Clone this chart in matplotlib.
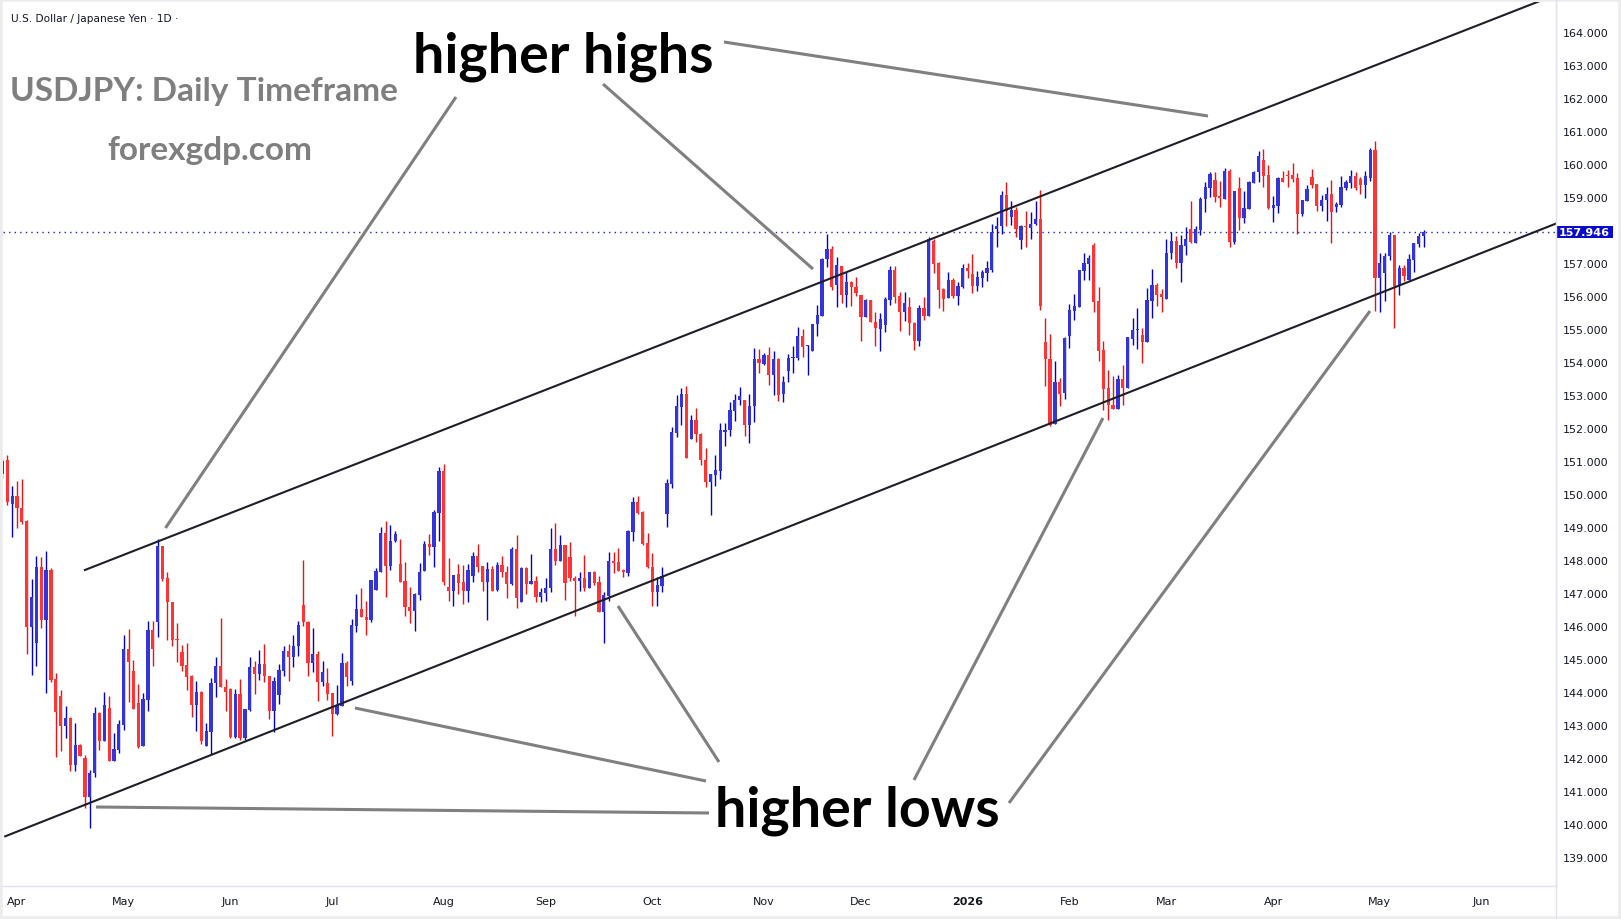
import numpy as np
import pandas as pd
import matplotlib
matplotlib.use("Agg")
import matplotlib.pyplot as plt
import matplotlib.transforms as mtransforms
from matplotlib.lines import Line2D
from matplotlib.patches import Rectangle

# USDJPY daily candles (index 0 = 2025-03-27)
opens = [150.60, 151.03, 149.70, 149.95, 149.58, 149.19, 145.98, 145.50, 147.80, 146.18,
         147.71, 144.39, 143.89, 142.98, 143.21, 141.80, 142.40, 142.00, 140.83, 141.54,
         143.36, 142.53, 143.52, 141.92, 142.25, 143.01, 145.30, 144.63, 143.67, 142.37,
         143.77, 145.88, 146.13, 148.43, 147.45, 146.74, 145.61, 145.22, 144.82, 144.50,
         143.62, 144.00, 142.37, 142.80, 144.29, 144.78, 144.14, 144.09, 142.63, 143.94,
         142.60, 143.47, 144.77, 144.55, 144.84, 144.50, 143.44, 143.92, 144.65, 145.24,
         145.07, 145.41, 146.64, 146.13, 144.87, 145.15, 144.32, 144.27, 143.97, 143.34,
         143.59, 144.87, 144.35, 146.01, 146.52, 146.27, 146.17, 147.10, 147.65, 148.81,
         147.83, 148.57, 147.88, 147.38, 146.59, 146.47, 146.95, 147.66, 148.49, 148.41,
         149.43, 150.71, 147.18, 147.05, 147.58, 147.33, 147.07, 147.51, 148.11, 147.81,
         147.35, 147.73, 147.09, 147.85, 147.63, 147.28, 148.34, 146.74, 147.76, 147.28,
         147.36, 146.89, 147.00, 147.14, 148.34, 147.98, 148.46, 148.08, 147.46, 147.38,
         147.45, 147.16, 147.63, 147.33, 146.44, 146.92, 147.97, 147.93, 147.70, 147.61,
         148.86, 149.77, 149.47, 148.52, 147.78, 147.02, 147.23, 149.40, 150.31, 151.86,
         152.65, 153.04, 151.67, 152.25, 151.83, 151.04, 150.38, 150.58, 150.71, 151.89,
         151.93, 152.53, 152.85, 152.85, 152.08, 152.68, 154.10, 153.93, 154.22, 153.62,
         154.10, 153.02, 153.74, 154.12, 154.12, 154.78, 154.48, 154.35, 155.14, 155.41,
         157.11, 157.43, 156.34, 156.91, 156.02, 156.44, 156.27, 156.04, 155.38, 155.87,
         155.21, 155.00, 155.13, 155.89, 156.79, 156.01, 155.53, 155.68, 155.18, 154.65,
         155.63, 155.41, 157.68, 157.00, 156.21, 155.93, 156.49, 156.01, 156.29, 156.85,
         156.67, 156.31, 156.55, 156.70, 156.80, 158.03, 158.11, 159.06, 158.41, 158.61,
         157.71, 158.13, 158.06, 158.18, 158.33, 154.62, 154.09, 152.12, 153.41, 153.05,
         154.80, 155.56, 155.68, 156.77, 156.97, 157.54, 155.84, 154.36, 153.21, 152.70,
         152.59, 153.48, 153.21, 154.71, 154.97, 154.82, 154.60, 155.84, 156.34, 156.06,
         155.91, 157.30, 157.66, 157.00, 157.52, 158.03, 157.61, 158.01, 158.94, 159.29,
         159.51, 159.04, 158.94, 159.78, 157.63, 159.29, 158.36, 158.64, 159.44, 159.75,
         160.13, 159.67, 158.66, 158.74, 159.57, 159.67, 159.68, 159.57, 158.49, 158.89,
         159.60, 159.40, 158.74, 158.90, 159.10, 158.69, 158.76, 159.28, 159.42, 159.65,
         159.55, 159.38, 159.58, 160.43, 156.55, 156.70, 157.21, 157.86, 156.30, 156.85,
         156.50, 157.10, 157.58, 157.81]
highs = [151.10, 151.18, 150.25, 150.40, 150.45, 149.22, 147.42, 148.13, 148.10, 148.28,
         147.75, 144.58, 144.06, 143.59, 143.26, 143.05, 142.44, 142.09, 141.65, 143.56,
         143.41, 143.99, 143.89, 142.75, 143.15, 145.73, 145.91, 144.97, 144.24, 143.96,
         146.14, 146.14, 148.64, 148.43, 147.63, 146.74, 146.09, 145.42, 145.49, 144.52,
         144.34, 144.04, 143.05, 144.44, 145.05, 146.26, 144.41, 144.12, 144.09, 144.40,
         143.50, 145.05, 144.95, 145.28, 145.46, 144.50, 144.47, 144.85, 145.39, 145.46,
         145.74, 146.16, 148.00, 146.16, 145.94, 145.26, 144.95, 144.72, 143.97, 144.22,
         145.20, 144.95, 146.22, 146.97, 147.15, 146.75, 147.40, 147.75, 148.99, 149.20,
         149.06, 148.89, 148.64, 147.95, 147.20, 147.00, 147.91, 148.59, 148.79, 149.53,
         150.81, 150.91, 148.06, 147.56, 147.88, 147.85, 147.88, 148.24, 148.49, 147.83,
         147.93, 147.81, 147.93, 148.11, 147.81, 148.41, 148.76, 147.80, 147.78, 148.18,
         147.51, 147.15, 147.45, 148.96, 149.12, 148.76, 148.46, 148.54, 147.53, 147.63,
         148.15, 147.65, 147.68, 147.53, 147.02, 148.24, 148.26, 148.37, 147.73, 148.92,
         149.90, 149.93, 149.50, 148.82, 148.22, 147.48, 147.78, 150.46, 152.03, 152.99,
         153.21, 153.29, 152.41, 152.61, 151.86, 151.39, 150.61, 151.19, 152.16, 152.16,
         152.80, 153.02, 153.24, 152.85, 153.04, 154.42, 154.40, 154.27, 154.45, 154.33,
         154.12, 153.57, 154.25, 154.50, 155.06, 155.00, 154.52, 155.16, 155.73, 157.15,
         157.89, 157.53, 157.20, 156.91, 156.74, 156.47, 156.59, 156.04, 155.90, 155.87,
         155.51, 155.48, 155.98, 156.92, 156.90, 156.13, 156.11, 155.98, 155.22, 155.73,
         155.96, 157.78, 157.73, 157.02, 156.26, 156.72, 156.54, 156.42, 156.97, 156.99,
         157.27, 156.77, 156.79, 157.07, 158.18, 158.41, 159.19, 159.47, 158.88, 158.69,
         158.15, 158.59, 158.54, 158.87, 159.22, 155.33, 154.85, 154.02, 153.51, 154.75,
         155.76, 156.06, 156.80, 157.32, 157.24, 157.62, 156.28, 154.65, 153.77, 153.59,
         153.61, 153.91, 154.77, 155.33, 155.64, 155.03, 156.26, 156.82, 156.41, 156.21,
         157.73, 157.93, 157.81, 157.85, 158.10, 158.89, 158.13, 158.99, 159.46, 159.75,
         159.75, 159.49, 159.88, 159.85, 159.19, 159.62, 159.17, 159.49, 159.80, 160.40,
         160.46, 159.98, 159.02, 159.60, 159.78, 159.82, 160.04, 159.73, 158.92, 159.37,
         159.85, 159.40, 159.05, 159.30, 159.52, 158.84, 159.63, 159.53, 159.82, 159.75,
         159.60, 159.78, 160.48, 160.71, 157.31, 157.31, 157.94, 157.86, 156.95, 156.95,
         157.28, 157.61, 157.90, 157.99]
lows = [150.50, 149.67, 148.69, 148.97, 149.09, 145.15, 144.52, 144.80, 145.94, 143.98,
        144.30, 142.04, 142.22, 142.60, 141.62, 141.60, 142.07, 140.48, 139.89, 141.43,
        142.25, 142.52, 141.92, 141.90, 142.15, 142.85, 143.69, 143.50, 142.32, 142.37,
        143.43, 144.78, 145.66, 147.37, 145.59, 145.40, 144.92, 144.65, 144.07, 143.25,
        142.81, 142.42, 142.37, 142.12, 143.84, 144.14, 143.43, 142.60, 142.60, 142.55,
        142.55, 143.44, 143.94, 144.38, 144.32, 143.17, 142.78, 143.64, 144.50, 144.33,
        144.75, 145.10, 146.01, 144.50, 144.60, 143.74, 144.17, 143.77, 142.68, 143.30,
        143.59, 144.17, 144.22, 145.83, 146.27, 145.74, 146.13, 147.09, 147.63, 146.89,
        147.71, 148.54, 147.35, 146.30, 146.09, 145.86, 146.80, 147.66, 148.15, 147.80,
        148.59, 147.26, 146.77, 146.62, 146.97, 146.67, 146.72, 147.35, 147.65, 147.07,
        146.20, 147.07, 147.07, 147.48, 146.85, 147.26, 146.55, 146.74, 146.97, 147.27,
        146.72, 146.72, 146.77, 147.04, 147.85, 147.96, 146.80, 147.38, 146.30, 147.07,
        147.05, 147.15, 147.26, 146.42, 145.48, 146.77, 147.61, 147.66, 147.48, 147.51,
        148.59, 149.40, 148.47, 147.76, 146.60, 146.60, 147.04, 149.00, 150.18, 151.72,
        152.10, 151.10, 151.67, 151.59, 150.89, 150.21, 149.38, 150.26, 150.46, 151.47,
        151.77, 152.23, 152.70, 151.75, 151.54, 152.18, 153.66, 153.90, 153.32, 152.99,
        152.83, 152.80, 153.41, 153.66, 154.05, 154.15, 153.62, 154.35, 154.80, 155.39,
        156.88, 156.20, 155.66, 155.79, 155.66, 155.69, 155.99, 154.65, 155.36, 155.21,
        154.50, 154.35, 154.90, 155.73, 155.78, 154.95, 155.25, 154.83, 154.37, 154.50,
        155.28, 155.41, 156.70, 155.64, 155.56, 155.93, 155.93, 155.73, 156.26, 156.54,
        156.09, 156.16, 156.28, 156.47, 156.74, 157.50, 157.88, 158.11, 158.15, 157.80,
        157.43, 157.48, 157.73, 158.15, 155.59, 153.28, 152.05, 152.12, 152.68, 152.88,
        154.43, 155.28, 155.68, 156.49, 156.49, 155.53, 154.04, 152.55, 152.25, 152.57,
        152.59, 152.70, 153.21, 154.52, 154.41, 153.97, 154.60, 155.35, 155.71, 155.52,
        155.91, 157.12, 156.85, 156.43, 157.24, 157.61, 157.60, 157.86, 158.56, 158.99,
        158.86, 158.71, 158.94, 157.50, 157.58, 158.01, 158.23, 158.64, 159.44, 159.45,
        159.30, 158.64, 158.26, 158.52, 159.45, 159.32, 159.45, 157.88, 158.44, 158.88,
        159.28, 158.59, 158.59, 158.27, 157.60, 158.54, 158.69, 159.23, 159.27, 159.23,
        159.10, 158.97, 159.50, 155.54, 155.51, 155.86, 157.08, 155.03, 156.02, 156.45,
        156.50, 156.72, 157.50, 157.50]
closes = [151.00, 149.77, 149.95, 149.57, 149.14, 145.98, 146.89, 147.80, 146.18, 147.71,
          144.37, 143.40, 142.98, 143.22, 141.80, 142.40, 142.07, 140.83, 141.55, 143.36,
          142.53, 143.62, 141.92, 142.27, 143.03, 145.30, 144.90, 143.50, 142.35, 143.79,
          145.88, 145.30, 148.43, 147.42, 146.72, 145.59, 145.58, 144.80, 144.47, 143.62,
          144.00, 142.53, 142.81, 144.29, 144.78, 144.14, 144.01, 142.63, 143.94, 142.60,
          143.48, 144.77, 144.55, 144.85, 144.50, 143.44, 144.33, 144.67, 145.24, 145.07,
          145.41, 146.03, 146.11, 144.87, 145.15, 144.32, 144.60, 143.94, 143.34, 143.61,
          144.87, 144.47, 146.03, 146.52, 146.27, 146.19, 147.40, 147.66, 148.82, 147.83,
          148.59, 148.79, 147.35, 146.57, 146.45, 146.97, 147.65, 148.49, 148.41, 149.45,
          150.71, 147.33, 147.05, 147.56, 147.31, 147.07, 147.70, 148.11, 147.80, 147.35,
          147.73, 147.07, 147.85, 147.63, 147.28, 148.34, 146.85, 147.76, 147.28, 147.36,
          146.89, 147.02, 147.15, 148.34, 147.98, 148.46, 147.31, 147.45, 147.38, 147.45,
          147.16, 147.63, 147.31, 146.44, 146.95, 147.97, 147.92, 147.68, 147.63, 148.87,
          149.77, 149.43, 148.49, 147.78, 147.02, 147.25, 147.53, 150.34, 151.87, 152.68,
          153.04, 151.10, 152.26, 151.83, 151.02, 150.38, 150.61, 150.74, 151.93, 151.95,
          152.55, 152.85, 152.97, 152.08, 152.68, 154.10, 153.98, 154.22, 153.62, 154.10,
          152.99, 153.39, 154.12, 154.14, 154.78, 154.47, 154.52, 155.16, 155.43, 157.13,
          157.43, 156.27, 156.93, 156.02, 156.44, 156.27, 156.10, 155.38, 155.87, 155.21,
          155.03, 155.32, 155.91, 156.79, 155.98, 155.53, 155.78, 155.17, 154.65, 155.63,
          155.41, 157.73, 156.97, 156.19, 155.91, 156.49, 156.01, 156.31, 156.85, 156.77,
          156.31, 156.59, 156.72, 156.84, 157.93, 158.13, 159.06, 158.57, 158.61, 158.03,
          158.11, 158.10, 158.20, 158.33, 155.71, 154.09, 152.09, 153.41, 153.03, 154.72,
          155.58, 155.71, 156.80, 156.99, 157.14, 155.83, 154.34, 153.18, 152.70, 152.59,
          153.48, 153.21, 154.75, 154.97, 155.00, 154.60, 155.88, 156.34, 156.03, 155.98,
          157.32, 157.66, 157.00, 157.55, 157.73, 157.63, 158.03, 158.94, 159.31, 159.70,
          158.99, 158.96, 159.78, 157.63, 159.19, 158.36, 158.66, 159.46, 159.75, 160.26,
          159.65, 158.66, 158.76, 159.57, 159.47, 159.63, 159.55, 158.49, 158.92, 159.25,
          159.38, 158.74, 158.92, 159.10, 158.56, 158.79, 159.30, 159.45, 159.65, 159.27,
          159.38, 159.63, 160.43, 156.55, 157.01, 157.23, 157.86, 156.30, 156.85, 156.60,
          157.13, 157.61, 157.83, 157.946]

# trading days (FX feed skips Christmas and New Year)
holidays = ["2025-12-25", "2026-01-01"]
days = pd.bdate_range("2025-03-27", "2026-07-31")
days = days[~days.isin(pd.to_datetime(holidays))]
dates = days[:len(closes)]

# hand-drawn channel (bar index, price)
upper_x, upper_y = [17.0, 330.0], [147.70, 165.69]
lower_x, lower_y = [0.57, 330.0], [139.63, 158.76]

price_ticks = [p for p in range(139, 165) if p != 158]

# ---- layout (pixels) ----
W, H = 1621, 920
x0, dx = 2.45, 4.85          # centre of bar 0 and bar spacing
ax_l, ax_r, ax_t, ax_b = 3, 1556, 3, 887
ppy = 33.0                   # pixels per yen

fig = plt.figure(figsize=(W / 100, H / 100), dpi=100)
fig.patch.set_facecolor("white")
ax = fig.add_axes([ax_l / W, 1 - ax_b / H, (ax_r - ax_l) / W, (ax_b - ax_t) / H])

o = np.array(opens)
h = np.array(highs)
l = np.array(lows)
c = np.array(closes)
x = np.arange(len(c))
up = c >= o
body_col = np.where(up, "#3434dc", "#ff3535")
wick_col = np.where(up, "#0000cc", "#ee1111")

ax.vlines(x, l, h, colors=wick_col, linewidth=1.0, zorder=2)
ax.bar(x, np.maximum(np.abs(c - o), 0.035), bottom=np.minimum(o, c), width=0.66,
       color=body_col, linewidth=0, zorder=3)

ax.plot(upper_x, upper_y, color="#1e1e28", lw=1.5, zorder=4)
ax.plot(lower_x, lower_y, color="#1e1e28", lw=1.5, zorder=4)
ax.axhline(c[-1], color="#1f1fd0", lw=1.0, linestyle=(0, (1, 3)), zorder=1)

# month ticks (only those inside the view)
xmin, xmax = (ax_l - x0) / dx, (ax_r - x0) / dx
months = days.to_period("M")
starts = [i for i in range(1, len(days)) if months[i] != months[i - 1] and i < xmax]
labels = ["2026" if days[i].month == 1 else days[i].strftime("%b") for i in starts]
ax.set_xticks(starts)
ax.set_xticklabels(labels)
for t in ax.get_xticklabels():
    if t.get_text() == "2026":
        t.set_fontweight("bold")
ax.tick_params(axis="x", length=0, pad=7, labelsize=8, labelcolor="#131722")

ax.yaxis.tick_right()
ax.set_yticks(price_ticks)
ax.set_yticklabels([f"{p:.3f}" for p in price_ticks])
ax.tick_params(axis="y", length=0, pad=5, labelsize=8, labelcolor="#131722")

ax.set_xlim(xmin, xmax)
ax.set_ylim(164 - (ax_b - 33.1) / ppy, 164 - (ax_t - 33.1) / ppy)

for s in ["left", "top"]:
    ax.spines[s].set_visible(False)
for s in ["right", "bottom"]:
    ax.spines[s].set_color("#e0e3eb")
    ax.spines[s].set_linewidth(1.0)

# last price label
axw = ax_r - ax_l
trans = mtransforms.blended_transform_factory(ax.transAxes, ax.transData)
ax.add_patch(Rectangle((1.0, c[-1] - 6.3 / ppy), 57 / axw, 12.6 / ppy, transform=trans,
                       fc="#0a0acc", ec="none", clip_on=False, zorder=6))
ax.text(1.0 + 28.5 / axw, c[-1], f"{c[-1]:.3f}", transform=trans, ha="center",
        va="center", fontsize=8, fontweight="bold", color="white", clip_on=False,
        zorder=7)


def fp(px, py):
    return px / W, 1 - py / H


# grey pointer lines (pixel coords)
pointers = [((456, 98), (165.5, 529)), ((603, 85), (813, 270)), ((724, 43), (1208, 117)),
            ((355, 709), (706, 782)), ((618, 607), (719, 763)), ((96, 808), (709, 814)),
            ((914, 781), (1103, 419)), ((1009, 804), (1370, 312))]
for p0, p1 in pointers:
    a, b = fp(*p0), fp(*p1)
    fig.add_artist(Line2D([a[0], b[0]], [a[1], b[1]], color="#808080", lw=2.2,
                          solid_capstyle="butt", zorder=5))

fig.text(*fp(11, 22.5), "U.S. Dollar / Japanese Yen \u00b7 1D \u00b7", fontsize=7.6,
         color="#131722", ha="left", va="baseline")
fig.text(*fp(10, 100.5), "USDJPY: Daily Timeframe", family="Lato", fontweight="bold",
         fontsize=24, color="#7f7f7f", ha="left", va="baseline")
fig.text(*fp(107, 160), "forexgdp.com", family="Lato", fontweight="bold",
         fontsize=24, color="#7f7f7f", ha="left", va="baseline")
fig.text(*fp(413, 72), "higher highs", family="Lato", fontweight="bold",
         fontsize=40, color="black", ha="left", va="baseline")
fig.text(*fp(715, 827), "higher lows", family="Lato", fontweight="bold",
         fontsize=40, color="black", ha="left", va="baseline")

# outer frame and axis separators
fig.add_artist(Line2D([ax_r / W, ax_r / W], [0, 1], color="#e0e3eb", lw=1.0))
fig.add_artist(Rectangle((0, 0), 1, 1, transform=fig.transFigure, fill=False,
                         ec="#ececec", lw=4))

fig.savefig("out.png", dpi=100, facecolor="white")
